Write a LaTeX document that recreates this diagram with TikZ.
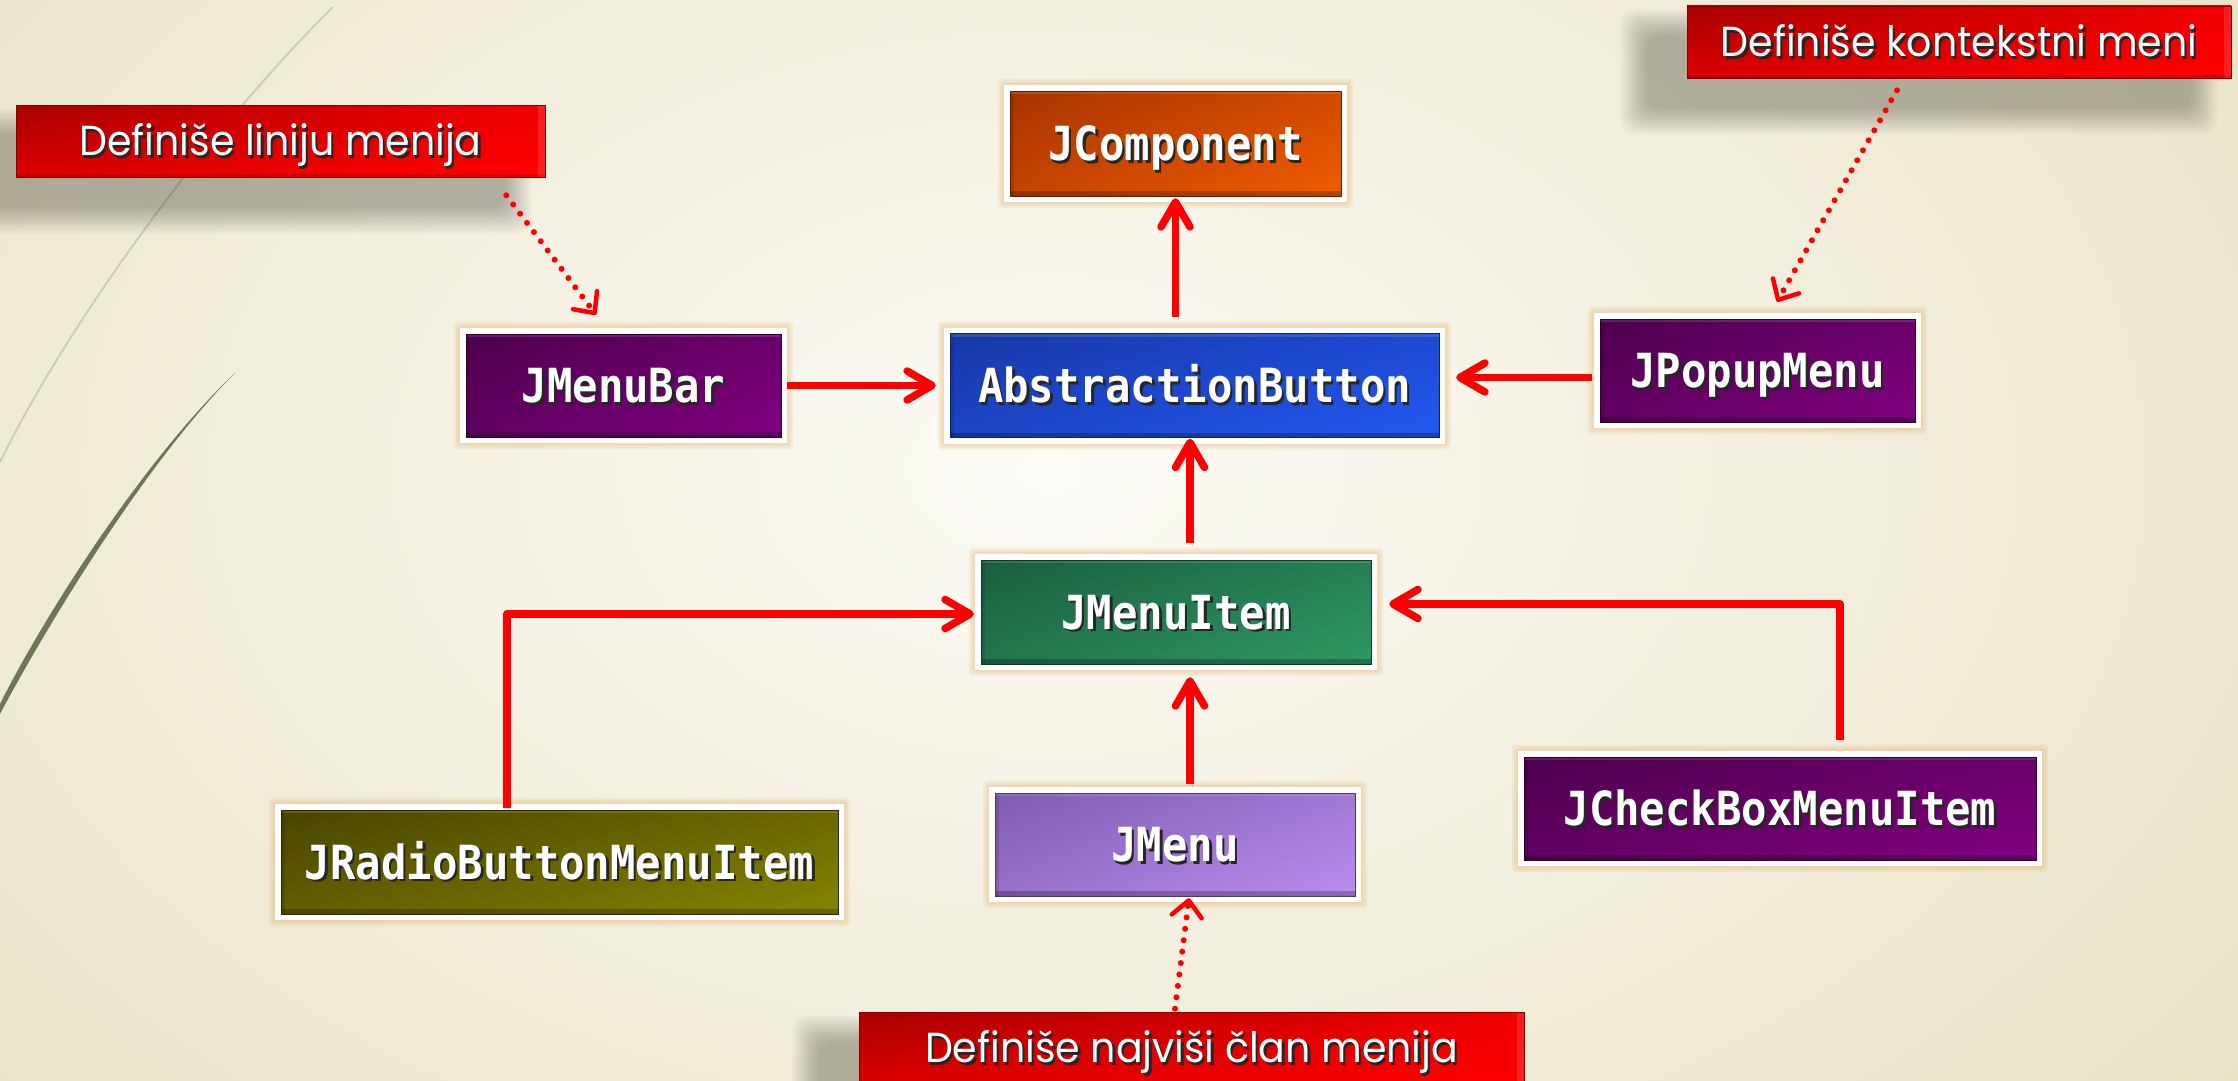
\documentclass[tikz,border=0pt]{standalone}
\usepackage{fontspec}
\usetikzlibrary{arrows.meta,calc,shadings}
\newfontfamily\monofam{DejaVu Sans Mono}[FakeStretch=0.9]
\newfontfamily\notefam{Poppins}[FakeStretch=0.94]

\definecolor{bgin}{HTML}{FCFBF6}
\definecolor{bgout}{HTML}{E9E3C6}
\definecolor{arcdark}{HTML}{6E7656}
\definecolor{arclight}{HTML}{CACDB7}
\definecolor{linkred}{HTML}{FF0000}
\definecolor{glowc}{HTML}{E6B674}
\definecolor{orangeA}{HTML}{A83400}
\definecolor{orangeB}{HTML}{F25C00}
\definecolor{blueA}{HTML}{1838A8}
\definecolor{blueB}{HTML}{2258F2}
\definecolor{purpA}{HTML}{4E004E}
\definecolor{purpB}{HTML}{820082}
\definecolor{greenA}{HTML}{1B5E40}
\definecolor{greenB}{HTML}{2E9A62}
\definecolor{oliveA}{HTML}{4A4500}
\definecolor{oliveB}{HTML}{858500}
\definecolor{lavA}{HTML}{7F5DB0}
\definecolor{lavB}{HTML}{BC8CF2}
\definecolor{redA}{HTML}{A80000}
\definecolor{redB}{HTML}{FF0000}

% white lettering with a dark drop shadow
\newcommand\shtext[1]{\rlap{\kern2.5pt\raisebox{-2.5pt}{\textcolor{black!85}{#1}}}#1}

% soft orange halo round a class box
\newcommand\glowbox[1]{%
  \foreach \r in {2,4,6}{%
    \fill[glowc, opacity=0.17, rounded corners=4pt]
      ([shift={({-\r*1pt},{\r*1pt})}]#1.north west) rectangle
      ([shift={({\r*1pt},{-\r*1pt})}]#1.south east);}}

% blurred grey shadow below and left of a note
\newcommand\dropshade[1]{%
  \foreach \e in {26,24,...,0}{%
    \fill[black!80!olive, opacity=0.027, rounded corners=14pt]
      ([shift={({-40pt-\e*1pt},{-30pt+\e*1pt})}]#1.north west) rectangle
      ([shift={({-40pt+\e*1pt},{-30pt-\e*1pt})}]#1.south east);}}

\pgfdeclarelayer{bg}
\pgfdeclarelayer{back}
\pgfsetlayers{bg,back,main}

\begin{document}
\begin{tikzpicture}[x=1pt,y=-1pt,
  cls/.style 2 args={rectangle, inner sep=0pt, fill=white, text=white,
    font=\monofam\bfseries\fontsize{47}{50}\selectfont,
    text height=34.3pt, text depth=0pt,
    path picture={
      \coordinate (pNW) at ([shift={(6pt,-6pt)}]path picture bounding box.north west);
      \coordinate (pSE) at ([shift={(-6pt,6pt)}]path picture bounding box.south east);
      \shade[upper left=#1, upper right=#1!45!#2, lower left=#1!60!#2, lower right=#2]
        (pNW) rectangle (pSE);
      \fill[black, opacity=0.25] (pNW |- pSE) rectangle ($(pSE)+(0pt,5pt)$);
      \fill[black, opacity=0.12] (pNW) rectangle ($(pNW |- pSE)+(4pt,0pt)$);
      \fill[white, opacity=0.12] (pNW) rectangle ($(pSE |- pNW)+(0pt,-3pt)$);
      \draw[#1!60!black, line width=1pt] (pNW) rectangle (pSE);
    }},
  note/.style={rectangle, inner sep=0pt, minimum height=72pt, text=white,
    font=\notefam\fontsize{42}{48}\selectfont, text height=29.5pt, text depth=0pt,
    draw=redA!80!black, line width=0.6pt,
    path picture={
      \shade[upper left=redA, upper right=redB!94!black, lower left=redB!86!black, lower right=redB]
        (path picture bounding box.north west) rectangle (path picture bounding box.south east);
      \fill[white, opacity=0.12] ([shift={(-7pt,0pt)}]path picture bounding box.north east)
        rectangle (path picture bounding box.south east);
      \fill[black, opacity=0.12] (path picture bounding box.south west)
        rectangle ([shift={(0pt,3pt)}]path picture bounding box.south east);
    }},
  link/.style={draw=linkred, line width=7.5pt,
    -{Straight Barb[length=25pt, width=29pt, round]},
    preaction={draw=black, opacity=0.15, transform canvas={shift={(2.5pt,-3pt)}}}},
  elbow/.style={link, line join=round},
  hint/.style={draw=linkred, line width=6pt, line cap=round, dash pattern=on 0pt off 11.5pt,
    -{Straight Barb[length=16pt, width=30pt, line width=4.5pt, round]}},
]
\useasboundingbox (0,0) rectangle (2238,1081);

% background and the two sweeping arcs
\begin{pgfonlayer}{bg}
  \fill[bgout] (0,0) rectangle (2238,1081);
  \shade[inner color=bgin, outer color=bgout] (1050,470) ellipse (1500 and 1000);
  \draw[arclight, line width=2pt] (333,7) .. controls (228,110) and (80,300) .. (0,462);
  \fill[arcdark] (235,373) .. controls (145,458) and (45,614) .. (0,704)
    -- (0,714) .. controls (49,622) and (147,461) .. (235,373) -- cycle;
\end{pgfonlayer}

% class boxes
\node[cls={orangeA}{orangeB}, minimum width=343pt, minimum height=117pt] (jcomp) at (1175.5,143.5) {\shtext{JComponent}};
\node[cls={blueA}{blueB}, minimum width=501pt, minimum height=116pt] (ab) at (1194.5,385.5) {\shtext{AbstractionButton}};
\node[cls={purpA}{purpB}, minimum width=327pt, minimum height=115pt] (jmenubar) at (623.5,385.5) {\shtext{JMenuBar}};
\node[cls={purpA}{purpB}, minimum width=327pt, minimum height=115pt] (jpopup) at (1757.5,370.5) {\shtext{JPopupMenu}};
\node[cls={greenA}{greenB}, minimum width=402pt, minimum height=116pt] (jmenuitem) at (1176,612) {\shtext{JMenuItem}};
\node[cls={oliveA}{oliveB}, minimum width=569pt, minimum height=116pt] (jradio) at (559.5,862) {\shtext{JRadioButtonMenuItem}};
\node[cls={lavA}{lavB}, minimum width=372pt, minimum height=115pt] (jmenu) at (1175,844.5) {\shtext{JMenu}};
\node[cls={purpA}{purpB}, minimum width=524pt, minimum height=115pt] (jcheck) at (1780,808.5) {\shtext{JCheckBoxMenuItem}};

% notes
\node[note, minimum width=529pt] (c1) at (280.5,141) {\shtext{Definiše liniju menija}};
\node[note, minimum width=544pt] (c2) at (1959,42) {\shtext{Definiše kontekstni meni}};
\node[note, minimum width=665pt] (c3) at (1191.5,1048) {\shtext{Definiše najviši član menija}};

\begin{pgfonlayer}{back}
  \foreach \n in {jcomp,ab,jmenubar,jpopup,jmenuitem,jradio,jmenu,jcheck}{\glowbox{\n}}
  \foreach \n in {c1,c2,c3}{\dropshade{\n}}
\end{pgfonlayer}

% inheritance links
\draw[link] (jmenubar.east) -- ($(jmenubar.east -| ab.west)+(-8,0)$);
\draw[link] ($(ab.north -| jcomp.south)+(0,-10)$) -- ($(jcomp.south)+(0,-4)$);
\draw[link] ($(jpopup.west)+(-2,7)$) -- ($(ab.east)+(11,-8)$);
\draw[link] ($(jmenuitem.north)+(14,-11)$) -- ($(ab.south)+(-4.5,-5)$);
\draw[link] ($(jmenu.north)+(15,-3)$) -- ($(jmenuitem.south)+(14,7)$);
\draw[elbow] ($(jradio.north)+(-52.5,4)$) |- ($(jmenuitem.west)+(-1,2)$);
\draw[elbow] ($(jcheck.north)+(60,-11)$) |- ($(jmenuitem.east)+(12,-8)$);

% dotted pointers from the notes
\draw[hint] ($(c1.south east)+(-39,18)$) -- ($(jmenubar.north)+(-27.5,-13)$);
\draw[hint] ($(c2.south)+(-62,12)$) -- ($(jpopup.north)+(19.5,-11)$);
\draw[hint] ($(c3.north)+(-16.5,-3)$) -- ($(jmenu.south)+(14,-4)$);
\end{tikzpicture}
\end{document}
